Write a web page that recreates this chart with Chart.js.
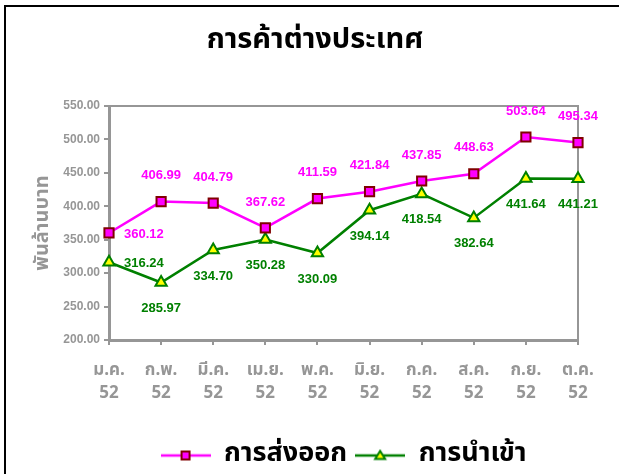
<!DOCTYPE html>
<html>
<head>
<meta charset="utf-8">
<script src="https://cdn.jsdelivr.net/npm/chart.js@4/dist/chart.umd.min.js"></script>
<style>
html,body{margin:0;padding:0;background:#fff;}
#wrap{position:relative;width:619px;height:474px;}
#frame{position:absolute;left:4px;top:5px;width:640px;height:500px;border:2px solid #000;box-sizing:border-box;pointer-events:none;}
canvas{position:absolute;left:0;top:0;}
</style>
</head>
<body>
<div id="wrap">
<canvas id="c" width="619" height="474"></canvas>
<div id="frame"></div>
</div>
<script>
const categories = [["ม.ค.","52"],["ก.พ.","52"],["มี.ค.","52"],["เม.ย.","52"],["พ.ค.","52"],["มิ.ย.","52"],["ก.ค.","52"],["ส.ค.","52"],["ก.ย.","52"],["ต.ค.","52"]];
const exportsData = [360.12, 406.99, 404.79, 367.62, 411.59, 421.84, 437.85, 448.63, 503.64, 495.34];
const importsData = [316.24, 285.97, 334.70, 350.28, 330.09, 394.14, 418.54, 382.64, 441.64, 441.21];
const seriesNames = ["การส่งออก", "การนำเข้า"];
const chartTitle = "การค้าต่างประเทศ";
const yAxisTitle = "พันล้านบาท";
const yMin = 200, yMax = 550, yStep = 50;

const THAI = "Tahoma, 'Noto Sans Thai', 'Loma', 'Garuda', 'Liberation Sans', Arial, sans-serif";
const NUM = "'Liberation Sans', Arial, sans-serif";
const GRAY = '#969696';

function legendIcon(color, shape, fill, border) {
  const cv = document.createElement('canvas');
  cv.width = 50; cv.height = 14;
  const g = cv.getContext('2d');
  g.strokeStyle = color; g.lineWidth = 2.5;
  g.beginPath(); g.moveTo(0, 7); g.lineTo(50, 7); g.stroke();
  g.fillStyle = fill; g.strokeStyle = border; g.lineWidth = 2;
  if (shape === 'rect') {
    g.fillRect(21, 3, 8, 8); g.strokeRect(21, 3, 8, 8);
  } else {
    g.beginPath(); g.moveTo(25, 2.5); g.lineTo(30, 10.5); g.lineTo(20, 10.5); g.closePath();
    g.fill(); g.stroke();
  }
  return cv;
}
const icons = [legendIcon('#FF00FF', 'rect', '#FF00FF', '#800000'), legendIcon('#008000', 'tri', '#FFFF00', '#008000')];

const dataLabels = {
  id: 'dataLabels',
  afterDatasetsDraw(chart) {
    const ctx = chart.ctx;
    ctx.save();
    ctx.font = "bold 13px " + NUM;
    ctx.textBaseline = 'middle';
    chart.data.datasets.forEach((ds, di) => {
      const meta = chart.getDatasetMeta(di);
      ctx.fillStyle = ds.labelColor;
      meta.data.forEach((pt, i) => {
        const txt = ds.data[i].toFixed(2);
        if (i === 0) {
          ctx.textAlign = 'left';
          ctx.fillText(txt, pt.x + 15, pt.y + 1);
        } else {
          ctx.textAlign = 'center';
          ctx.fillText(txt, pt.x, pt.y + (di === 0 ? -26 : 26));
        }
      });
    });
    ctx.restore();
  }
};

new Chart(document.getElementById('c'), {
  type: 'line',
  data: {
    labels: categories,
    datasets: [
      {
        label: seriesNames[0], data: exportsData, labelColor: '#FF00FF',
        borderColor: '#FF00FF', borderWidth: 2.5, pointStyle: 'rect', pointRadius: 6.5,
        pointBackgroundColor: '#FF00FF', pointBorderColor: '#800000', pointBorderWidth: 2,
        tension: 0, yAxisID: 'y'
      },
      {
        label: seriesNames[1], data: importsData, labelColor: '#008000',
        borderColor: '#008000', borderWidth: 2.5, pointStyle: 'triangle', pointRadius: 6.5,
        pointBackgroundColor: '#FFFF00', pointBorderColor: '#008000', pointBorderWidth: 2,
        tension: 0, yAxisID: 'y'
      }
    ]
  },
  options: {
    responsive: false,
    animation: false,
    layout: { padding: { left: 11, right: 0, top: 0, bottom: -5 } },
    plugins: {
      tooltip: { enabled: false },
      title: {
        display: true, text: chartTitle, color: '#000',
        font: { family: THAI, size: 29, weight: 'bold', lineHeight: 1.2 },
        padding: { top: 25, bottom: 46.2 }
      },
      legend: {
        display: true, position: 'bottom', fullSize: false,
        labels: {
          usePointStyle: true, pointStyleWidth: 50, color: '#000',
          font: { family: THAI, size: 27, weight: 'bold' }, padding: 8,
          generateLabels(chart) {
            const items = Chart.defaults.plugins.legend.labels.generateLabels(chart);
            items.forEach((it, i) => { it.pointStyle = icons[i]; });
            return items;
          }
        }
      }
    },
    scales: {
      x: {
        type: 'category', offset: false,
        grid: { display: true, drawOnChartArea: false, color: GRAY, tickColor: GRAY, tickLength: 5, lineWidth: 2 },
        border: { display: true, color: GRAY, width: 3 },
        ticks: { color: GRAY, font: { family: THAI, size: 17, weight: 'bold', lineHeight: 1.35 }, maxRotation: 0, autoSkip: false, padding: 15 },
        afterFit(s) { s.height = 94; }
      },
      y: {
        type: 'linear', position: 'left', min: yMin, max: yMax,
        grid: {
          display: true, drawOnChartArea: true,
          color: (c) => (c.tick && c.tick.value === yMax) ? GRAY : 'rgba(0,0,0,0)',
          tickColor: GRAY, tickLength: 5, lineWidth: 2
        },
        border: { display: true, color: GRAY, width: 3 },
        ticks: { stepSize: yStep, color: GRAY, padding: 4, font: { family: NUM, size: 12, weight: 'bold' }, callback: (v) => v.toFixed(2) },
        title: { display: true, text: yAxisTitle, color: GRAY, font: { family: THAI, size: 20, weight: 'bold' }, padding: { top: 21, bottom: 0 } },
        afterFit(s) { s.width = 98; }
      },
      y2: {
        type: 'linear', position: 'right', min: yMin, max: yMax,
        grid: { display: false },
        border: { display: true, color: GRAY, width: 2 },
        ticks: { display: false },
        afterFit(s) { s.width = 41; }
      }
    }
  },
  plugins: [dataLabels]
});
</script>
</body>
</html>
